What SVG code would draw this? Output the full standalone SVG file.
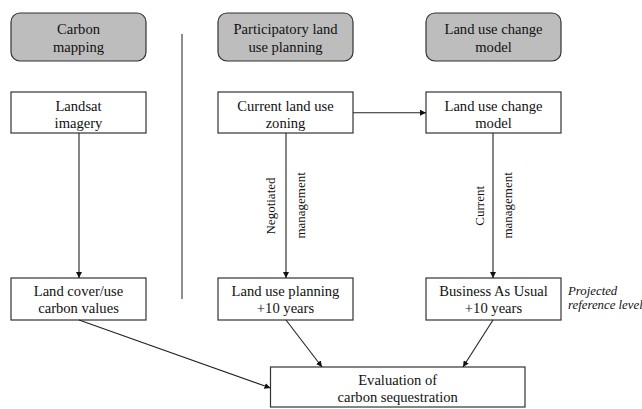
<svg xmlns="http://www.w3.org/2000/svg" width="642" height="409" viewBox="0 0 642 409">
<defs>
<style>
.hdr{fill:#bdbdbd;stroke:#333;stroke-width:1.2}
.box{fill:#fff;stroke:#333;stroke-width:1.2}
.t{font-family:"Liberation Serif","Times New Roman",serif;font-size:14.6px;fill:#111;text-anchor:middle}
.r{font-family:"Liberation Serif","Times New Roman",serif;font-size:13px;fill:#111;text-anchor:middle}
.i{font-family:"Liberation Serif","Times New Roman",serif;font-size:12.8px;font-style:italic;fill:#111}
.c{stroke:#222;stroke-width:1.1;fill:none}
</style>
<marker id="ah" viewBox="0 0 10 10" refX="10" refY="5" markerWidth="6" markerHeight="6" markerUnits="userSpaceOnUse" orient="auto">
<path d="M0,0 L10,5 L0,10 z" fill="#111"/>
</marker>
</defs>
<rect width="642" height="409" fill="#fff"/>
<line x1="182" y1="34" x2="182" y2="299" stroke="#444" stroke-width="1.2"/>
<g id="hdr-carbon"><rect class="hdr" x="11" y="13" width="135" height="48" rx="9"/><text class="t" x="78.5" y="34.3">Carbon</text><text class="t" x="78.5" y="52.3">mapping</text></g>
<g id="hdr-planning"><rect class="hdr" x="218" y="13" width="135" height="48" rx="9"/><text class="t" x="285.5" y="34.3">Participatory land</text><text class="t" x="285.5" y="52.3">use planning</text></g>
<g id="hdr-model"><rect class="hdr" x="426" y="13" width="135" height="48" rx="9"/><text class="t" x="493.5" y="34.3">Land use change</text><text class="t" x="493.5" y="52.3">model</text></g>
<g id="landsat"><rect class="box" x="11" y="92" width="135" height="41"/><text class="t" x="78.5" y="111">Landsat</text><text class="t" x="78.5" y="128">imagery</text></g>
<g id="zoning"><rect class="box" x="218" y="92" width="135" height="41"/><text class="t" x="285.5" y="111">Current land use</text><text class="t" x="285.5" y="128">zoning</text></g>
<g id="lucm"><rect class="box" x="426" y="92" width="135" height="41"/><text class="t" x="493.5" y="111">Land use change</text><text class="t" x="493.5" y="128">model</text></g>
<g id="landcover"><rect class="box" x="11" y="278" width="135" height="42"/><text class="t" x="78.5" y="296">Land cover/use</text><text class="t" x="78.5" y="313.3">carbon values</text></g>
<g id="lup10"><rect class="box" x="218" y="278" width="135" height="42"/><text class="t" x="285.5" y="296">Land use planning</text><text class="t" x="285.5" y="313.3">+10 years</text></g>
<g id="bau10"><rect class="box" x="426" y="278" width="135" height="42"/><text class="t" x="493.5" y="296">Business As Usual</text><text class="t" x="493.5" y="313.3">+10 years</text></g>
<g id="eval"><rect class="box" x="270.5" y="367" width="254.5" height="40"/><text class="t" x="397.7" y="385">Evaluation of</text><text class="t" x="397.7" y="401.7">carbon sequestration</text></g>
<g id="note"><text class="i" x="568" y="295">Projected</text><text class="i" x="568" y="308.5">reference level</text></g>
<g id="connectors">
<line class="c" x1="79" y1="133" x2="79" y2="278" marker-end="url(#ah)"/>
<line class="c" x1="286" y1="133" x2="286" y2="278" marker-end="url(#ah)"/>
<line class="c" x1="493" y1="133" x2="493" y2="278" marker-end="url(#ah)"/>
<line class="c" x1="353" y1="112.7" x2="426" y2="112.7" marker-end="url(#ah)"/>
<line class="c" x1="79" y1="320" x2="270.5" y2="388" marker-end="url(#ah)"/>
<line class="c" x1="286" y1="320" x2="322" y2="367" marker-end="url(#ah)"/>
<line class="c" x1="493" y1="320" x2="463" y2="367" marker-end="url(#ah)"/>
<text class="r" transform="translate(275.3,206) rotate(-90)">Negotiated</text>
<text class="r" transform="translate(304.5,205.4) rotate(-90)">management</text>
<text class="r" transform="translate(484,205.8) rotate(-90)">Current</text>
<text class="r" transform="translate(512,205.4) rotate(-90)">management</text>
</g>
</svg>
